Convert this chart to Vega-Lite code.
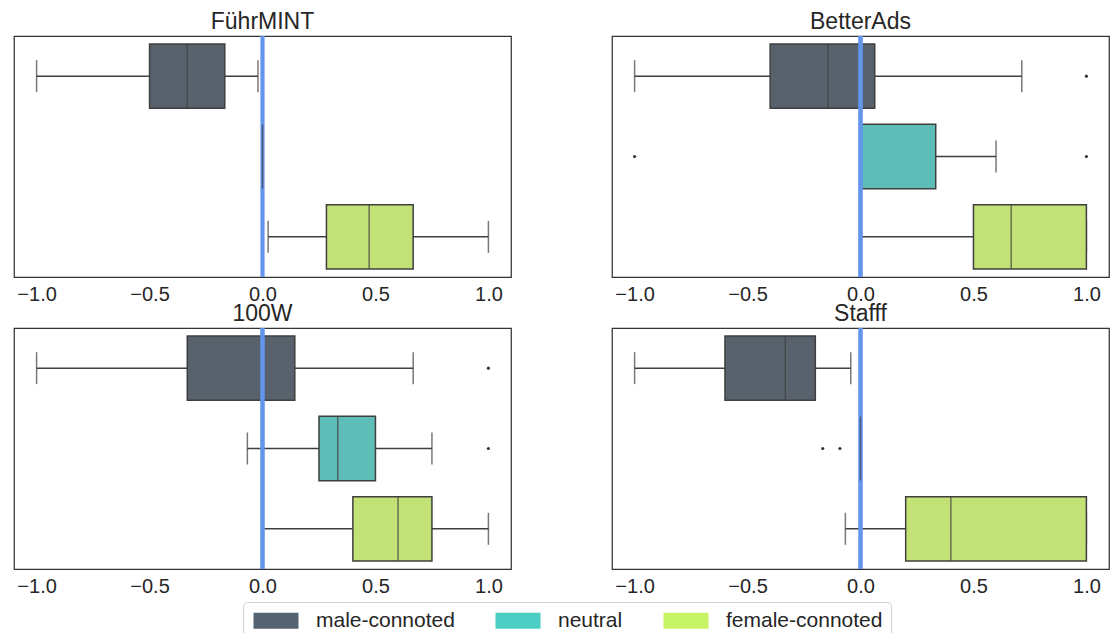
{
  "$schema": "https://vega.github.io/schema/vega-lite/v6.json",
  "padding": {"left": 13, "top": 10, "right": 5, "bottom": 0},
  "background": "white",
  "config": {
    "font": "Liberation Sans",
    "view": {"stroke": "#333333", "strokeWidth": 1.25},
    "axisX": {"ticks": false, "domain": false, "grid": false, "labelFontSize": 20, "labelPadding": 7, "labelColor": "#262626", "labelFont": "Liberation Sans"}
  },
  "data": {
    "values": [
      {"panel": "FührMINT", "group": "male-connoted", "lo": -1.0, "q1": -0.5, "med": -0.333, "q3": -0.167, "hi": -0.02},
      {"panel": "FührMINT", "group": "neutral", "lo": 0, "q1": 0, "med": 0, "q3": 0, "hi": 0},
      {"panel": "FührMINT", "group": "female-connoted", "lo": 0.025, "q1": 0.283, "med": 0.472, "q3": 0.667, "hi": 1.0},
      {"panel": "BetterAds", "group": "male-connoted", "lo": -1.0, "q1": -0.4, "med": -0.143, "q3": 0.063, "hi": 0.714},
      {"panel": "BetterAds", "group": "neutral", "lo": 0, "q1": 0, "med": 0, "q3": 0.333, "hi": 0.6},
      {"panel": "BetterAds", "group": "female-connoted", "lo": 0, "q1": 0.5, "med": 0.667, "q3": 1.0, "hi": 1.0},
      {"panel": "100W", "group": "male-connoted", "lo": -1.0, "q1": -0.333, "med": 0, "q3": 0.143, "hi": 0.667},
      {"panel": "100W", "group": "neutral", "lo": -0.067, "q1": 0.25, "med": 0.333, "q3": 0.5, "hi": 0.75},
      {"panel": "100W", "group": "female-connoted", "lo": 0, "q1": 0.4, "med": 0.6, "q3": 0.75, "hi": 1.0},
      {"panel": "Stafff", "group": "male-connoted", "lo": -1.0, "q1": -0.6, "med": -0.333, "q3": -0.2, "hi": -0.043},
      {"panel": "Stafff", "group": "neutral", "lo": 0, "q1": 0, "med": 0, "q3": 0, "hi": 0},
      {"panel": "Stafff", "group": "female-connoted", "lo": -0.067, "q1": 0.2, "med": 0.4, "q3": 1.0, "hi": 1.0},
      {"panel": "BetterAds", "group": "male-connoted", "outlier": 1.0},
      {"panel": "BetterAds", "group": "neutral", "outlier": -1.0},
      {"panel": "BetterAds", "group": "neutral", "outlier": 1.0},
      {"panel": "100W", "group": "male-connoted", "outlier": 1.0},
      {"panel": "100W", "group": "neutral", "outlier": 1.0},
      {"panel": "Stafff", "group": "neutral", "outlier": -0.167},
      {"panel": "Stafff", "group": "neutral", "outlier": -0.091}
    ]
  },
  "facet": {
    "field": "panel", "type": "nominal",
    "sort": ["FührMINT", "BetterAds", "100W", "Stafff"],
    "header": {"title": null, "labelFontSize": 23, "labelColor": "#262626", "labelPadding": 0, "labelFont": "Liberation Sans"}
  },
  "columns": 2,
  "spacing": {"column": 99, "row": -3},
  "resolve": {"axis": {"x": "independent"}},
  "spec": {
    "width": 497,
    "height": 241,
    "encoding": {
      "y": {"field": "group", "type": "nominal", "sort": ["male-connoted", "neutral", "female-connoted"], "axis": null, "scale": {"paddingInner": 0.2, "paddingOuter": 0.1}}
    },
    "layer": [
      {
        "transform": [{"filter": "isValid(datum.q1)"}],
        "mark": {"type": "rule", "color": "#3f3f3f", "strokeWidth": 1.5},
        "encoding": {
          "x": {"field": "lo", "type": "quantitative", "title": null, "scale": {"domain": [-1.1, 1.1], "nice": false, "zero": false}, "axis": {"values": [-1, -0.5, 0, 0.5, 1], "format": ".1f"}},
          "x2": {"field": "q1"}
        }
      },
      {
        "transform": [{"filter": "isValid(datum.q1)"}],
        "mark": {"type": "rule", "color": "#3f3f3f", "strokeWidth": 1.5},
        "encoding": {
          "x": {"field": "q3", "type": "quantitative", "title": null, "axis": {"values": [-1, -0.5, 0, 0.5, 1], "format": ".1f"}},
          "x2": {"field": "hi"}
        }
      },
      {
        "transform": [{"filter": "isValid(datum.q1)"}],
        "mark": {"type": "tick", "color": "#3f3f3f", "size": 32, "thickness": 1.5, "orient": "vertical"},
        "encoding": {
          "x": {"field": "lo", "type": "quantitative", "title": null, "axis": {"values": [-1, -0.5, 0, 0.5, 1], "format": ".1f"}}
        }
      },
      {
        "transform": [{"filter": "isValid(datum.q1)"}],
        "mark": {"type": "tick", "color": "#3f3f3f", "size": 32, "thickness": 1.5, "orient": "vertical"},
        "encoding": {
          "x": {"field": "hi", "type": "quantitative", "title": null, "axis": {"values": [-1, -0.5, 0, 0.5, 1], "format": ".1f"}}
        }
      },
      {
        "transform": [{"filter": "isValid(datum.q1)"}],
        "mark": {"type": "bar", "stroke": "#3f3f3f", "strokeWidth": 1.5, "fillOpacity": 1},
        "encoding": {
          "x": {"field": "q1", "type": "quantitative", "title": null, "axis": {"values": [-1, -0.5, 0, 0.5, 1], "format": ".1f"}},
          "x2": {"field": "q3"},
          "fill": {
            "field": "group", "type": "nominal",
            "scale": {"domain": ["neutral", "male-connoted", "female-connoted"], "range": ["#5fbdb7", "#58626c", "#c2e177"]},
            "legend": null
          }
        }
      },
      {
        "transform": [{"filter": "isValid(datum.q1)"}],
        "mark": {"type": "square", "filled": true, "size": 0, "opacity": 1},
        "encoding": {
          "x": {"field": "q1", "type": "quantitative", "title": null, "axis": {"values": [-1, -0.5, 0, 0.5, 1], "format": ".1f"}},
          "color": {
            "field": "group", "type": "nominal",
            "scale": {"domain": ["male-connoted", "neutral", "female-connoted"], "range": ["#556270", "#4ECDC4", "#C7F464"]},
            "legend": {
              "title": null,
              "orient": "none",
              "legendX": 229,
              "legendY": 566,
              "direction": "horizontal",
              "symbolType": "M-1,-1H4.625V1H-1Z",
              "symbolSize": 256,
              "symbolStrokeWidth": 0,
              "symbolOpacity": 1,
              "labelFontSize": 21,
              "labelColor": "#262626",
              "labelFont": "Liberation Sans",
              "labelLimit": 400,
              "labelOffset": 44,
              "columnPadding": 38,
              "padding": 8,
              "strokeColor": "#d0d0d0",
              "cornerRadius": 4,
              "fillColor": "white"
            }
          }
        }
      },
      {
        "transform": [{"filter": "isValid(datum.q1)"}],
        "mark": {"type": "tick", "color": "#3f3f3f", "size": 64, "thickness": 1.5, "orient": "vertical"},
        "encoding": {
          "x": {"field": "med", "type": "quantitative", "title": null, "axis": {"values": [-1, -0.5, 0, 0.5, 1], "format": ".1f"}}
        }
      },
      {
        "mark": {"type": "rule", "color": "#6495ED", "strokeWidth": 3.5},
        "encoding": {
          "x": {"datum": 0, "type": "quantitative"},
          "y": null
        }
      },
      {
        "transform": [{"filter": "isValid(datum.q1) && datum.q1 === datum.q3"}],
        "mark": {"type": "tick", "color": "#3f3f3f", "size": 64, "thickness": 1.5, "orient": "vertical"},
        "encoding": {
          "x": {"field": "q1", "type": "quantitative", "title": null, "axis": {"values": [-1, -0.5, 0, 0.5, 1], "format": ".1f"}}
        }
      },
      {
        "transform": [{"filter": "isValid(datum.outlier)"}],
        "mark": {"type": "point", "filled": true, "color": "#333333", "size": 10, "opacity": 1},
        "encoding": {
          "x": {"field": "outlier", "type": "quantitative", "title": null, "axis": {"values": [-1, -0.5, 0, 0.5, 1], "format": ".1f"}}
        }
      }
    ]
  }
}
